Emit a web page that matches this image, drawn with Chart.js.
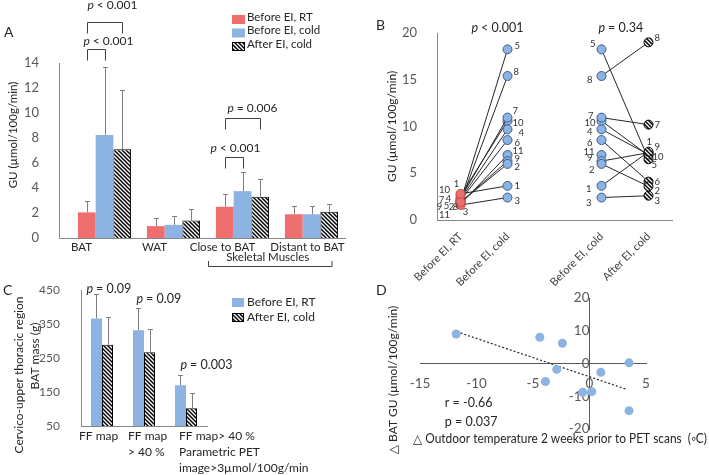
<!DOCTYPE html>
<html lang="en">
<head>
<meta charset="utf-8" />
<title>BAT glucose uptake before and after EI</title>
<script src="https://cdn.jsdelivr.net/npm/chart.js"></script>
<style>
  body { margin: 0; background: #fff; }
  #fig { position: relative; width: 709px; height: 475px; overflow: hidden; background: #fff; }
  #fig canvas { position: absolute; }
</style>
</head>
<body>
<div id="fig">
  <canvas id="chartA" width="360" height="275" style="left:0;top:0"></canvas>
  <canvas id="chartB" width="349" height="290" style="left:360px;top:0"></canvas>
  <canvas id="chartC" width="360" height="205" style="left:0;top:270px"></canvas>
  <canvas id="chartD" width="349" height="195" style="left:360px;top:280px"></canvas>
</div>
<script>
// ---- panel A : GU by tissue ----
const catsA = ['BAT', 'WAT', 'Close to BAT', 'Distant to BAT'];
const seriesA = ['Before EI, RT', 'Before EI, cold', 'After EI, cold'];
const rtA = [2.05, 0.95, 2.5, 1.9];
const rtSdA = [0.95, 0.65, 1.0, 0.65];
const coldA = [8.25, 1.05, 3.75, 1.9];
const coldSdA = [5.45, 0.7, 1.55, 0.65];
const afterA = [7.1, 1.4, 3.3, 2.1];
const afterSdA = [4.75, 0.9, 1.4, 0.62];
const ticksA = [0, 2, 4, 6, 8, 10, 12, 14];

// ---- panel B : individual GU, subjects 1..11 ----
const subjects = ['1', '2', '3', '4', '5', '6', '7', '8', '9', '10', '11'];
const catsB = ['Before EI, RT', 'Before EI, cold', '', 'Before EI, cold', 'After EI, cold'];
const rtB = [2.8, 1.9, 1.6, 2.2, 2.0, 2.1, 2.3, 1.9, 1.9, 2.6, 1.7];
const coldB = [3.65, 6.0, 2.4, 9.7, 18.25, 8.55, 10.95, 15.4, 6.3, 10.6, 6.95];
const afterB = [7.3, 3.6, 2.6, 7.0, 6.5, 4.1, 10.2, 19.0, 7.2, 6.9, null];
const ticksB = [0, 5, 10, 15, 20];

// ---- panel C : BAT mass ----
const catsC = [['FF map'], ['FF map', '> 40 %'], ['FF map> 40 %', 'Parametric PET', 'image>3µmol/100g/min']];
const seriesC = ['Before EI, RT', 'After EI, cold'];
const rtC = [367, 332, 170];
const rtSdC = [71, 65, 30];
const afterC = [289, 267, 102];
const afterSdC = [83, 69, 45];
const pvalC = ['= 0.09', '= 0.09', '= 0.003'];
const ticksC = [50, 150, 250, 350, 450];

// ---- panel D : delta GU vs delta outdoor temperature ----
const tempD = [-11.8, -4.4, -2.4, -2.9, -3.9, -0.6, 0.2, 1.0, 3.5, 3.5];
const guD = [9.0, 8.0, 6.2, -1.8, -5.5, -8.8, -8.6, -2.7, 0.2, -14.4];
const trendX = [-11.75, 3.3];
const trendY = [9.7, -7.9];
const ticksDX = [-15, -10, -5, 0, 5];
const ticksDY = [-20, -10, 0, 10, 20];

// label offsets for the subject numbers in B ([dx, dy] from the point)
const lblRT = [[-4,-10],[-9,5],[5,7],[-12,0],[-14,5],null,[-19,1],[-5,5],[-21,5],[-16,-6],[-16,11]];
const lblCold = [[7,0],[7,3],[7,3],[11,4],[7,-3],[7,3],[5,-7],[6,-4],[7,-2],[5,2],[5,-4]];
const lblCold2 = [[-10,3],[-7,6],[-10,5],[-9,3],[-6,-5],[-9,3],[-8,-2],[-9,4],[-9,-3],[-6,2],[-7,-3]];
const lblAfter = [[-2,-10],[6,5],[6,5],null,[3,6],[6,0],[6,0],[6,-4],[6,-6],[4,1],null];

const FONT = 'Lato, "DejaVu Sans", sans-serif';
const RED = '#EF6F6F', RED_EDGE = '#C0504D';
const BLUE = '#8DB3E2', BLUE_EDGE = '#3A5F8F';
const AXIS = '#868686', TXT = '#262626', TICK = '#595959';

Chart.defaults.font.family = FONT;
Chart.defaults.color = TICK;
Chart.defaults.animation = false;
Chart.defaults.responsive = false;
Chart.defaults.plugins.legend.display = false;
Chart.defaults.plugins.tooltip.enabled = false;

function makeHatch() {
  const c = document.createElement('canvas');
  c.width = 4; c.height = 4;
  const g = c.getContext('2d');
  g.fillStyle = '#fff'; g.fillRect(0, 0, 4, 4);
  g.strokeStyle = '#000'; g.lineWidth = 1.5;
  g.beginPath();
  g.moveTo(-1, -1); g.lineTo(5, 5);
  g.moveTo(-1, 3); g.lineTo(1, 5);
  g.moveTo(3, -1); g.lineTo(5, 1);
  g.stroke();
  return g.createPattern(c, 'repeat');
}
const HATCH = makeHatch();

function text(ctx, s, x, y, size, align, style) {
  ctx.font = (style ? style + ' ' : '') + size + 'px ' + FONT;
  ctx.textAlign = align || 'left';
  ctx.textBaseline = 'middle';
  ctx.fillText(s, x, y);
}
// text squeezed to a given width (the figure uses a narrower face)
function fitText(ctx, s, x, y, size, width) {
  ctx.font = size + 'px ' + FONT;
  const w = ctx.measureText(s).width;
  ctx.save();
  ctx.translate(x, y);
  if (w > width) ctx.scale(width / w, 1);
  text(ctx, s, 0, 0, size, 'left');
  ctx.restore();
}
function pText(ctx, rest, x, y, size) {
  ctx.fillStyle = TXT;
  text(ctx, 'p', x, y, size, 'left', 'italic');
  const w = ctx.measureText('p ').width;
  text(ctx, rest, x + w, y, size, 'left');
}
function vText(ctx, s, x, y, size) {
  ctx.save();
  ctx.translate(x, y); ctx.rotate(-Math.PI / 2);
  ctx.fillStyle = TXT;
  text(ctx, s, 0, 0, size, 'center');
  ctx.restore();
}
function legendBox(ctx, fill, edge, x, y, w, h) {
  ctx.fillStyle = fill; ctx.fillRect(x, y, w, h);
  if (edge) { ctx.strokeStyle = edge; ctx.lineWidth = 1; ctx.strokeRect(x + 0.5, y + 0.5, w - 1, h - 1); }
}
const yTicks = arr => s => { s.ticks = arr.map(v => ({ value: v })); };

const errorBars = {
  id: 'errorBars',
  afterDatasetsDraw(chart) {
    const ctx = chart.ctx, y = chart.scales.y;
    ctx.save();
    ctx.strokeStyle = '#7f7f7f'; ctx.lineWidth = 1;
    chart.data.datasets.forEach((ds, i) => {
      if (!ds.sd) return;
      chart.getDatasetMeta(i).data.forEach((bar, j) => {
        const x = Math.round(bar.x) + 0.5;
        const top = Math.round(y.getPixelForValue(ds.data[j] + ds.sd[j])) + 0.5;
        ctx.beginPath();
        ctx.moveTo(x, bar.y); ctx.lineTo(x, top);
        ctx.moveTo(x - 2.5, top); ctx.lineTo(x + 2.5, top);
        ctx.stroke();
      });
    });
    ctx.restore();
  }
};

// ---------- A ----------
const bracketsA = [
  { cat: 0, from: 0, to: 2, level: 17.25, rest: '< 0.001', dx: 0, dy: -17 },
  { cat: 0, from: 0, to: 1, level: 15.1, rest: '< 0.001', dx: -4, dy: -8 },
  { cat: 2, from: 0, to: 2, level: 9.6, rest: '= 0.006', dx: 2, dy: -10 },
  { cat: 2, from: 0, to: 1, level: 6.45, rest: '< 0.001', dx: -15, dy: -9 }
];
const shiftA = [-23, -19, -20, -4];

const drawA = {
  id: 'drawA',
  afterDraw(chart) {
    const ctx = chart.ctx, x = chart.scales.x, y = chart.scales.y, a = chart.chartArea;
    const axisX = a.left - 10.5;
    ctx.save();
    ctx.strokeStyle = AXIS; ctx.lineWidth = 1;
    ctx.beginPath();
    ctx.moveTo(axisX, a.top); ctx.lineTo(axisX, a.bottom + 0.5); ctx.lineTo(a.right, a.bottom + 0.5);
    ctx.stroke();

    ctx.fillStyle = TXT;
    catsA.forEach((c, i) => text(ctx, c, x.getPixelForTick(i) + shiftA[i], a.bottom + 9, 11.5, 'center'));
    const half = (x.getPixelForTick(1) - x.getPixelForTick(0)) / 2;
    const l = x.getPixelForTick(2) - half, r = x.getPixelForTick(3) + 20;
    text(ctx, 'Skeletal Muscles', (l + r) / 2 - 2, a.bottom + 19, 11.5, 'center');
    ctx.strokeStyle = '#404040';
    ctx.beginPath();
    ctx.moveTo(l + 0.5, a.bottom + 23); ctx.lineTo(l + 0.5, a.bottom + 28.5);
    ctx.lineTo(r + 0.5, a.bottom + 28.5); ctx.lineTo(r + 0.5, a.bottom + 23);
    ctx.stroke();

    bracketsA.forEach(b => {
      const x1 = Math.round(chart.getDatasetMeta(b.from).data[b.cat].x) + 0.5;
      const x2 = Math.round(chart.getDatasetMeta(b.to).data[b.cat].x) + 0.5;
      const yl = Math.round(y.getPixelForValue(b.level)) + 0.5;
      ctx.strokeStyle = '#404040';
      ctx.beginPath();
      ctx.moveTo(x1, yl + 11); ctx.lineTo(x1, yl); ctx.lineTo(x2, yl); ctx.lineTo(x2, yl + 11);
      ctx.stroke();
      pText(ctx, b.rest, x1 + b.dx, yl + b.dy, 12);
    });

    chart.data.datasets.forEach((ds, k) => {
      const ty = 17 + 13.5 * k;
      legendBox(ctx, ds.backgroundColor, ds.borderWidth ? '#000' : null, 232, ty - 2, 13, 9);
      ctx.fillStyle = TXT;
      text(ctx, ds.label, 247, ty, 11.5);
    });

    vText(ctx, 'GU (µmol/100g/min)', 13, 135, 11.5);
    ctx.fillStyle = TXT;
    text(ctx, 'A', 4, 32.5, 14);
    ctx.restore();
  }
};

new Chart(document.getElementById('chartA'), {
  type: 'bar',
  data: {
    labels: catsA,
    datasets: [
      { label: seriesA[0], data: rtA, sd: rtSdA, backgroundColor: RED },
      { label: seriesA[1], data: coldA, sd: coldSdA, backgroundColor: BLUE },
      { label: seriesA[2], data: afterA, sd: afterSdA, backgroundColor: HATCH, borderColor: '#000', borderWidth: 1 }
    ]
  },
  options: {
    layout: { padding: { top: 63, right: 14, left: 0, bottom: 0 } },
    datasets: { bar: { categoryPercentage: 0.77, barPercentage: 1 } },
    scales: {
      x: {
        grid: { display: false }, border: { display: false }, ticks: { display: false },
        afterFit: s => { s.height = 37; }
      },
      y: {
        min: 0, max: 14, afterBuildTicks: yTicks(ticksA),
        grid: { display: false }, border: { display: false },
        ticks: { padding: 23, font: { size: 13 }, color: TICK },
        afterFit: s => { s.width = 70; }
      }
    }
  },
  plugins: [errorBars, drawA]
});

// ---------- B ----------
const drawB = {
  id: 'drawB',
  afterDraw(chart) {
    const ctx = chart.ctx, x = chart.scales.x, a = chart.chartArea;
    ctx.save();
    ctx.fillStyle = '#333';
    const cols = [[0, lblRT, 'center'], [1, lblCold, 'left'], [3, lblCold2, 'right'], [4, lblAfter, 'left']];
    chart.data.datasets.forEach((ds, i) => {
      const pts = chart.getDatasetMeta(i).data;
      cols.forEach(([c, offs, align]) => {
        const o = offs[i];
        if (!o || ds.data[c] == null) return;
        text(ctx, subjects[i], pts[c].x + o[0], pts[c].y + o[1], 9.5, align);
      });
    });
    pText(ctx, '< 0.001', x.getPixelForTick(0) + 11, a.top - 5, 12.5);
    pText(ctx, '= 0.34', x.getPixelForTick(3) - 3, a.top - 5, 12.5);
    ctx.fillStyle = TXT;
    text(ctx, 'B', 16, 25, 14);
    ctx.restore();
  }
};

new Chart(document.getElementById('chartB'), {
  type: 'line',
  data: {
    labels: catsB,
    datasets: subjects.map((s, i) => ({
      label: s,
      data: [rtB[i], coldB[i], null, coldB[i], afterB[i]],
      borderColor: '#262626', borderWidth: 1,
      pointRadius: 4.5, pointBorderWidth: 1,
      pointBackgroundColor: [RED, BLUE, BLUE, BLUE, HATCH],
      pointBorderColor: [RED_EDGE, BLUE_EDGE, BLUE_EDGE, BLUE_EDGE, '#000'],
      spanGaps: false
    }))
  },
  options: {
    layout: { padding: { top: 33, right: 37, left: 0, bottom: 0 } },
    scales: {
      x: {
        offset: true, grid: { display: false }, border: { color: AXIS },
        ticks: { minRotation: 45, maxRotation: 45, autoSkip: false, padding: 2, font: { size: 11 }, color: '#404040' },
        afterFit: s => { s.height = 70; }
      },
      y: {
        min: 0, max: 20, afterBuildTicks: yTicks(ticksB),
        grid: { display: false }, border: { color: AXIS },
        ticks: { padding: 12, font: { size: 13 }, color: TICK },
        title: { display: true, text: 'GU (µmol/100g/min)', color: TXT, font: { size: 12 }, padding: { top: 25, bottom: 0 } },
        afterFit: s => { s.width = 77; }
      }
    }
  },
  plugins: [drawB]
});

// ---------- C ----------
const shiftC = [-23, -16, -7];
const pShiftC = [-10, -2, 0];
const pAtC = [455, 425, 230];

const drawC = {
  id: 'drawC',
  afterDraw(chart) {
    const ctx = chart.ctx, x = chart.scales.x, y = chart.scales.y, a = chart.chartArea;
    ctx.save();
    ctx.fillStyle = TXT;
    catsC.forEach((lines, i) => lines.forEach((ln, k) =>
      text(ctx, ln, x.getPixelForTick(i) + shiftC[i], a.bottom + 10 + 16 * k, 12)));
    const blue = chart.getDatasetMeta(0).data;
    pvalC.forEach((p, i) => pText(ctx, p, blue[i].x + pShiftC[i], y.getPixelForValue(pAtC[i]), 12.5));
    chart.data.datasets.forEach((ds, k) => {
      const ty = 32 + 15 * k;
      legendBox(ctx, ds.backgroundColor, ds.borderWidth ? '#000' : null, 232, ty - 4, 12, 9);
      ctx.fillStyle = TXT;
      text(ctx, ds.label, 247, ty, 12);
    });
    vText(ctx, 'Cervico-upper thoracic region', 19, 105, 12);
    vText(ctx, 'BAT mass (g)', 35, 86, 12);
    ctx.fillStyle = TXT;
    text(ctx, 'C', 3, 20, 14);
    ctx.restore();
  }
};

new Chart(document.getElementById('chartC'), {
  type: 'bar',
  data: {
    labels: catsC,
    datasets: [
      { label: seriesC[0], data: rtC, sd: rtSdC, backgroundColor: BLUE },
      { label: seriesC[1], data: afterC, sd: afterSdC, backgroundColor: HATCH, borderColor: '#000', borderWidth: 1 }
    ]
  },
  options: {
    layout: { padding: { top: 14, right: 153, left: 0, bottom: 0 } },
    datasets: { bar: { categoryPercentage: 0.524, barPercentage: 1 } },
    scales: {
      x: {
        grid: { display: false }, border: { color: AXIS }, ticks: { display: false },
        afterFit: s => { s.height = 49; }
      },
      y: {
        min: 50, max: 450, afterBuildTicks: yTicks(ticksC),
        grid: { display: false }, border: { color: AXIS },
        ticks: { padding: 13, font: { size: 12 }, color: TICK },
        afterFit: s => { s.width = 81; }
      }
    }
  },
  plugins: [errorBars, drawC]
});

// ---------- D ----------
const drawD = {
  id: 'drawD',
  afterDraw(chart) {
    const ctx = chart.ctx, x = chart.scales.x, y = chart.scales.y;
    ctx.save();
    ctx.fillStyle = TXT;
    text(ctx, 'r = -0.66', x.getPixelForValue(-12.8), y.getPixelForValue(-12), 12.5);
    text(ctx, 'p = 0.037', x.getPixelForValue(-12.8), y.getPixelForValue(-17.8), 12.5);
    fitText(ctx, '△ Outdoor temperature 2 weeks prior to PET scans  (◦C)', 53, 159, 12.5, 294);
    vText(ctx, '△ BAT GU (µmol/100g/min)', 33, 100, 12);
    ctx.fillStyle = TXT;
    text(ctx, 'D', 16, 10.5, 14);
    ctx.restore();
  }
};

new Chart(document.getElementById('chartD'), {
  type: 'scatter',
  data: {
    datasets: [
      { data: tempD.map((t, i) => ({ x: t, y: guD[i] })), backgroundColor: BLUE, borderWidth: 0, pointRadius: 4.5 },
      { type: 'line', data: trendX.map((t, i) => ({ x: t, y: trendY[i] })), borderColor: '#262626',
        borderWidth: 1.2, borderDash: [2, 2], pointRadius: 0, fill: false }
    ]
  },
  options: {
    layout: { padding: { top: 18, right: 63, left: 60, bottom: 46 } },
    scales: {
      x: {
        type: 'linear', position: { y: 0 }, min: -15, max: 5, afterBuildTicks: yTicks(ticksDX),
        grid: { display: true, drawOnChartArea: false, drawTicks: true, tickLength: 6, tickColor: 'rgba(0,0,0,0)' },
        border: { color: '#595959' },
        ticks: { padding: 6, font: { size: 13.5 }, color: TICK }
      },
      y: {
        type: 'linear', position: { x: 0 }, min: -20, max: 20, afterBuildTicks: yTicks(ticksDY),
        grid: { display: true, drawOnChartArea: false, drawTicks: true, tickLength: 7, tickColor: 'rgba(0,0,0,0)' },
        border: { color: '#595959' },
        ticks: { padding: 6, font: { size: 13.5 }, color: TICK }
      }
    }
  },
  plugins: [drawD]
});
</script>
</body>
</html>
